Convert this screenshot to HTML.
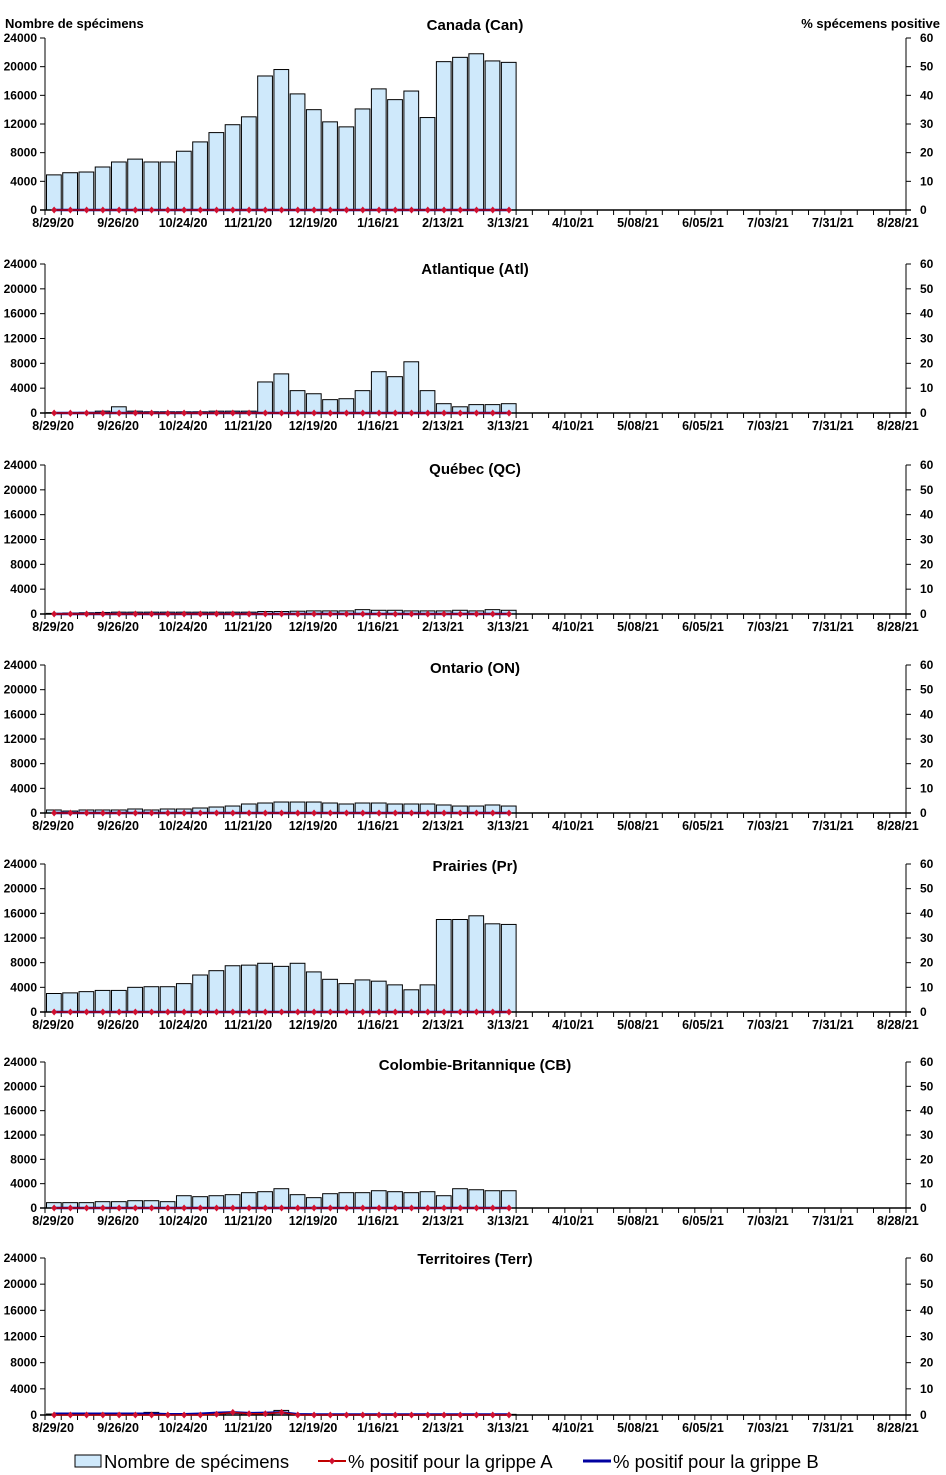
<!DOCTYPE html>
<html><head><meta charset="utf-8"><style>
body{margin:0;background:#fff;}
svg{display:block;font-family:"Liberation Sans",Arial,sans-serif;}
</style></head><body>
<svg id="c" width="946" height="1475" xmlns="http://www.w3.org/2000/svg"></svg>
<script>
const dates=["8/29/20","9/26/20","10/24/20","11/21/20","12/19/20","1/16/21","2/13/21","3/13/21","4/10/21","5/08/21","6/05/21","7/03/21","7/31/21","8/28/21"];
const leftTicks=[0,4000,8000,12000,16000,20000,24000];
const rightTicks=[0,10,20,30,40,50,60];
const regionNames=["Canada (Can)","Atlantique (Atl)","Québec (QC)","Ontario (ON)","Prairies (Pr)","Colombie-Britannique (CB)","Territoires (Terr)"];
const canValues=[4900,5200,5300,6000,6700,7100,6700,6700,8200,9500,10800,11900,13000,18700,19600,16200,14000,12300,11600,14100,16900,15400,16600,12900,20700,21300,21800,20800,20600];
const atlValues=[50,80,100,300,1000,300,200,200,200,200,300,300,300,5000,6300,3600,3100,2150,2300,3600,6650,5850,8250,3600,1500,1000,1350,1350,1500];
const qcValues=[100,150,200,250,300,300,300,300,300,300,300,300,300,400,400,450,500,500,500,700,600,600,500,500,500,600,500,700,600];
const onValues=[490,320,490,490,490,650,490,650,650,810,970,1130,1460,1620,1780,1780,1780,1620,1460,1620,1620,1460,1460,1460,1300,1130,1130,1300,1130];
const prValues=[3000,3100,3300,3500,3500,4000,4100,4100,4600,6000,6700,7500,7600,7900,7400,7900,6500,5300,4600,5200,5000,4400,3600,4400,15000,15000,15600,14300,14200];
const cbValues=[880,880,880,1040,1040,1200,1200,1040,2020,1860,2020,2190,2520,2680,3170,2190,1700,2350,2520,2520,2840,2680,2520,2680,2020,3170,3000,2840,2840];
const terrValues=[150,150,150,150,150,200,400,150,100,150,200,250,200,200,700,150,100,100,100,100,100,100,100,100,100,100,100,100,100];
const fluA=[0,0,0,0,0,0,0,0,0,0,0,0,0,0,0,0,0,0,0,0,0,0,0,0,0,0,0,0,0];
const fluB=[0,0,0,0,0,0,0,0,0,0,0,0,0,0,0,0,0,0,0,0,0,0,0,0,0,0,0,0,0];
const terrA=[0,0,0,0,0,0,0,0,0,0,0.3,1,0.5,0.5,1,0,0,0,0,0,0,0,0,0,0,0,0,0,0];
const terrB=[0.5,0.5,0.5,0.5,0.5,0.5,0.5,0.3,0.3,0.5,0.8,1,0.7,0.8,1,0.3,0.2,0.2,0.2,0.2,0.2,0.2,0.2,0.2,0.2,0.2,0.2,0.2,0.2];
const allValues=[canValues,atlValues,qcValues,onValues,prValues,cbValues,terrValues];
const allA=[fluA,fluA,fluA,fluA,fluA,fluA,terrA];
const allB=[fluB,fluB,fluB,fluB,fluB,fluB,terrB];
const panels=[[38,210,25],[264,413,269],[465,614,469],[665,813,668],[864,1012,866],[1062,1208,1065],[1258,1415,1259]];
const svg=document.getElementById('c');
const NS="http://www.w3.org/2000/svg";
const X0=45,X1=906,NSLOT=53,SW=(X1-X0)/NSLOT;
function el(tag,attrs,text){const e=document.createElementNS(NS,tag);for(const k in attrs)e.setAttribute(k,attrs[k]);if(text!==undefined)e.textContent=text;svg.appendChild(e);return e;}
function sx(i){return X0+i*SW;}
let t;
t=el('text',{x:5,y:28,'font-size':13,'font-weight':'bold'},'Nombre de spécimens');


t=el('text',{x:940,y:28,'font-size':13,'font-weight':'bold','text-anchor':'end'},'% spécemens positive');


panels.forEach((p,pi)=>{
  const top=p[0],base=p[1];
  const ys=v=>base-v/24000*(base-top);
  const yr=v=>base-v/60*(base-top);
  const tt=el('text',{x:475,y:p[2]+5,'font-size':15,'font-weight':'bold','text-anchor':'middle'},regionNames[pi]);
  
  
  allValues[pi].forEach((v,i)=>{
    const b=el('rect',{x:sx(i)+1.5,y:ys(v),width:SW-1.5,height:base-ys(v),fill:'#cfe9fb',stroke:'#000','stroke-width':1});
    
    
  });
  el('line',{x1:X0,y1:top,x2:X0,y2:base,stroke:'#000'});
  el('line',{x1:X1,y1:top,x2:X1,y2:base,stroke:'#000'});
  el('line',{x1:X0-5,y1:base,x2:X1+5,y2:base,stroke:'#000','stroke-width':1.5});
  leftTicks.forEach(v=>{
    el('line',{x1:X0-5,y1:ys(v),x2:X0,y2:ys(v),stroke:'#000'});
    const l=el('text',{x:37,y:ys(v)+4,'font-size':12,'font-weight':'bold','text-anchor':'end'},v);
    
    
  });
  rightTicks.forEach(v=>{
    el('line',{x1:X1,y1:yr(v),x2:X1+5,y2:yr(v),stroke:'#000'});
    const l=el('text',{x:920,y:yr(v)+4,'font-size':12,'font-weight':'bold'},v);
    
    
  });
  for(let i=0;i<=NSLOT;i++)el('line',{x1:sx(i),y1:base,x2:sx(i),y2:base+5,stroke:'#000'});
  dates.forEach((d,k)=>{
    const l=el('text',{x:sx(k*4)+SW/2,y:base+17,'font-size':12.5,'font-weight':'bold','text-anchor':'middle'},d);
    
    
  });
  const ptsA=allA[pi].map((v,i)=>(sx(i)+SW/2+1)+','+yr(v)).join(' ');
  const ptsB=allB[pi].map((v,i)=>(sx(i)+SW/2+1)+','+yr(v)).join(' ');
  const lb=el('polyline',{points:ptsB,fill:'none',stroke:'#0000a0','stroke-width':2.5});
  
  
  const la=el('polyline',{points:ptsA,fill:'none',stroke:'#c00000','stroke-width':1.5});
  
  
  allA[pi].forEach((v,i)=>{
    const cx=sx(i)+SW/2+1,cy=yr(v);
    const m=el('polygon',{points:`${cx},${cy-3.5} ${cx+3},${cy} ${cx},${cy+3.5} ${cx-3},${cy}`,fill:'#d01030'});
    
    
  });
});
let g;
g=el('rect',{x:75,y:1455,width:26,height:12,fill:'#cfe9fb',stroke:'#000'});


g=el('text',{x:104,y:1468,'font-size':18.5},'Nombre de spécimens');


el('line',{x1:318,y1:1461,x2:346,y2:1461,stroke:'#c00000','stroke-width':2});
el('polygon',{points:'332,1457.5 335,1461 332,1464.5 329,1461',fill:'#d01030'});
g=el('text',{x:348,y:1468,'font-size':18.5},'% positif pour la grippe A');


el('line',{x1:583,y1:1461,x2:611,y2:1461,stroke:'#0000a0','stroke-width':3});
g=el('text',{x:613,y:1468,'font-size':18.5},'% positif pour la grippe B');


</script>
</body></html>
